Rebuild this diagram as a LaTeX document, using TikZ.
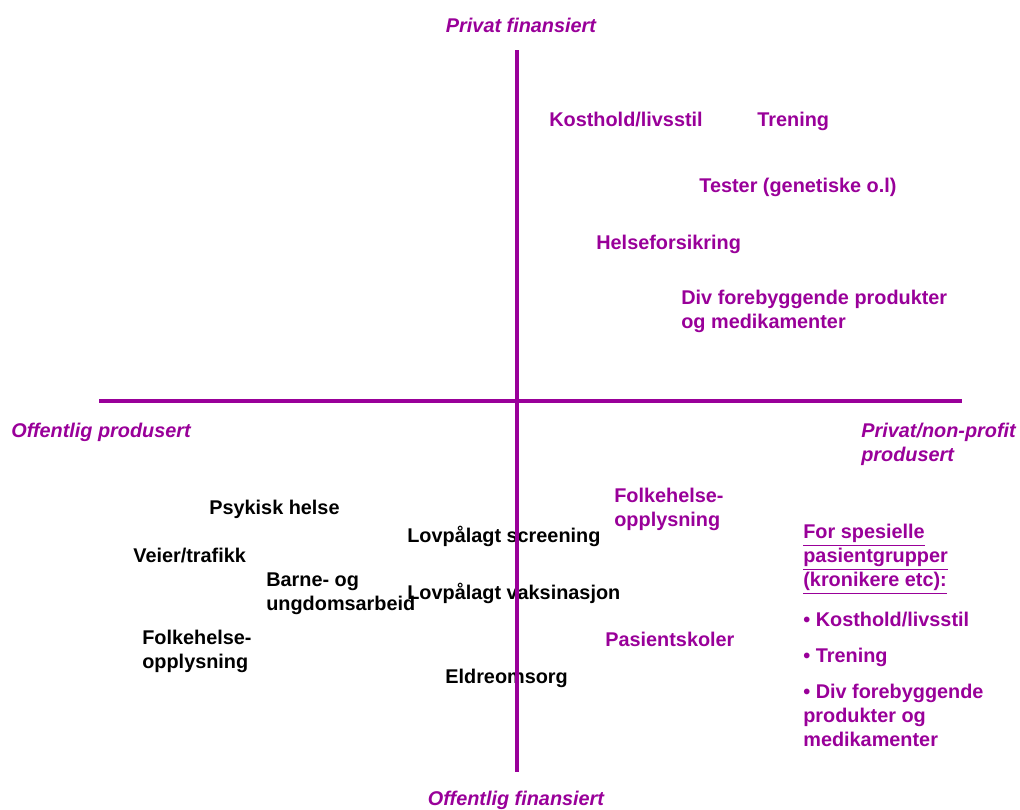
\documentclass[tikz,border=0pt]{standalone}
\usepackage{fontspec}
\setmainfont{Liberation Sans}
\definecolor{lilla}{RGB}{153,0,153}
\begin{document}
\begin{tikzpicture}[x=0.02cm,y=-0.02cm,every node/.style={font=\fontsize{11.3}{13.7}\selectfont\bfseries,inner sep=0pt,anchor=west,align=left},
  pur/.style={text=lilla},axis/.style={font=\fontsize{11.3}{13.7}\selectfont\bfseries\itshape,text=lilla}]
  \useasboundingbox (0,0) rectangle (1020,809);
  % akser
  \coordinate (top) at (517,50); \coordinate (bot) at (517,772);
  \coordinate (lft) at (99,401); \coordinate (rgt) at (962,401);
  \node[axis,anchor=center] (pf) at (521,25) {Privat finansiert};
  \node[axis,anchor=center] (of) at (516,800) {Offentlig finansiert};
  \node[axis] (op) at (11,432) {Offentlig produsert};
  \node[axis] (pp) at (861,444) {Privat/non-profit\\produsert};
  % privat finansiert
  \node[pur] (kost) at (549,119) {Kosthold/livsstil};
  \node[pur] (tren) at (757,121) {Trening};
  \node[pur] (test) at (699,187) {Tester (genetiske o.l)};
  \node[pur] (forsik) at (596,244) {Helseforsikring};
  \node[pur] (div) at (681,311) {Div forebyggende produkter\\og medikamenter};
  % offentlig finansiert
  \node (psyk) at (209,509) {Psykisk helse};
  \node (veier) at (133,555) {Veier/trafikk};
  \node (barne) at (266,594) {Barne- og\\ungdomsarbeid};
  \node (folk) at (142,651) {Folkehelse-\\opplysning};
  \node (screen) at (407,536) {Lovpålagt screening};
  \node (vaks) at (407,593) {Lovpålagt vaksinasjon};
  \node (eldre) at (445,678) {Eldreomsorg};
  \node[pur] (folkp) at (614,509) {Folkehelse-\\opplysning};
  \node[pur] (pasient) at (605,639) {Pasientskoler};
  \node[pur] (spes) at (803,559) {\underline{For spesielle}\\\underline{pasientgrupper}\\\underline{(kronikere etc):}};
  \node[pur] (b1) at (803,619) {• Kosthold/livsstil};
  \node[pur] (b2) at (803,657) {• Trening};
  \node[pur] (b3) at (803,715) {• Div forebyggende\\produkter og\\medikamenter};
  \draw[lilla,line width=2.8pt] (top) -- (bot);
  \draw[lilla,line width=2.8pt] (lft) -- (rgt);
\end{tikzpicture}
\end{document}
